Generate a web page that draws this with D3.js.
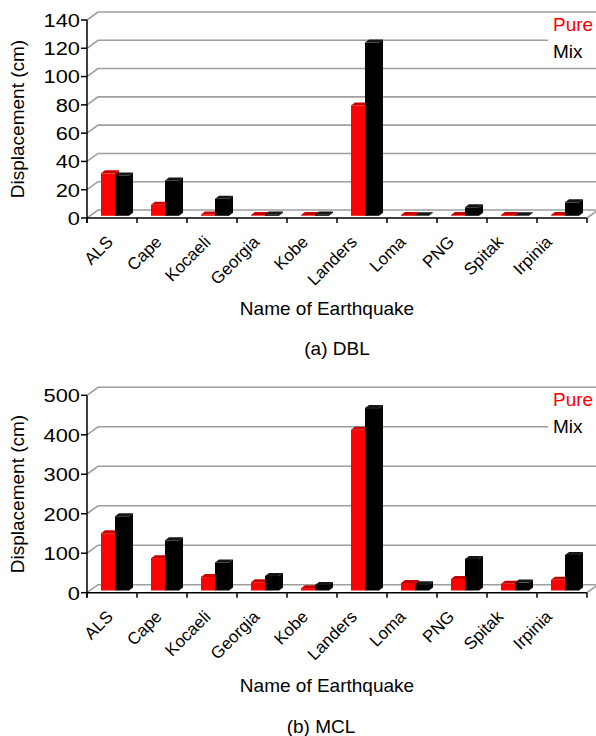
<!DOCTYPE html>
<html>
<head>
<meta charset="utf-8">
<script src="https://cdn.jsdelivr.net/npm/d3@7"></script>
<style>
  body { margin: 0; background: #fff; }
  svg { display: block; font-family: "Liberation Sans", Arial, Helvetica, sans-serif; }
</style>
</head>
<body>
<svg id="chart" width="596" height="736"></svg>
<script>
// Earthquake records and the two series shown in each panel
const categories = ["ALS", "Cape", "Kocaeli", "Georgia", "Kobe", "Landers", "Loma", "PNG", "Spitak", "Irpinia"];
const seriesNames = ["Pure", "Mix"];
const seriesColors = ["#ff0000", "#000000"];

// (a) DBL displacement, cm
const dblPure = [30, 7.8, 1, 0.5, 0.5, 78, 0.6, 0.5, 0.6, 0.5];
const dblMix  = [28.5, 25, 12, 1, 1, 122.5, 0.4, 6, 0.4, 9.5];
const dblTicks = [0, 20, 40, 60, 80, 100, 120, 140];

// (b) MCL displacement, cm
const mclPure = [145, 82, 34, 21, 6, 407, 19, 29, 17, 27];
const mclMix  = [188, 127, 71, 37, 14, 462, 16, 80, 20, 90];
const mclTicks = [0, 100, 200, 300, 400, 500];

const panels = [
  { caption: "(a) DBL", values: [dblPure, dblMix], ticks: dblTicks,
    yBottom: 218, yTop: 20, xTitleY: 315, captionX: 337, captionY: 355, legendY: 15 },
  { caption: "(b) MCL", values: [mclPure, mclMix], ticks: mclTicks,
    yBottom: 592.7, yTop: 395.3, xTitleY: 691.5, captionX: 321, captionY: 733, legendY: 390 }
];

const svg = d3.select("#chart");
const xLeft = 87, xRight = 587;
const wall = { dx: 11, dy: -8 };        // depth of the back wall
const place = { dx: 3, dy: -2.2 };      // depth at which bars stand
const bar = { dx: 4, dy: -3 };          // thickness of each bar

const shade = {
  "#ff0000": { top: "#c40000", side: "#a30000" },
  "#000000": { top: "#161616", side: "#050505" }
};

panels.forEach(p => {
  const g = svg.append("g");
  const y = d3.scaleLinear().domain([p.ticks[0], p.ticks[p.ticks.length - 1]]).range([p.yBottom, p.yTop]);
  const x = d3.scaleBand().domain(categories).range([xLeft, xRight]);
  const inner = d3.scaleBand().domain(seriesNames).range([11, 39]);
  const labelX = d3.scalePoint().domain(categories).range([114, 553]);

  // back-wall gridlines with their side-wall diagonals
  g.append("g").selectAll("path").data(p.ticks).join("path")
    .attr("d", t => {
      const yy = y(t);
      return `M${xLeft},${yy}L${xLeft + wall.dx},${yy + wall.dy}L${xRight + wall.dx},${yy + wall.dy}`;
    })
    .attr("fill", "none").attr("stroke", "#9e9e9e").attr("stroke-width", 1.6);

  // floor right edge
  g.append("path")
    .attr("d", `M${xRight},${y(0)}L${xRight + wall.dx},${y(0) + wall.dy}`)
    .attr("stroke", "#9e9e9e").attr("stroke-width", 1.6);

  // bars
  categories.forEach((c, i) => {
    seriesNames.forEach((s, k) => {
      const v = p.values[k][i];
      const col = seriesColors[k];
      const x0 = x(c) + inner(s) + place.dx;
      const x1 = x0 + inner.bandwidth();
      const yb = y(0) + place.dy;
      const yt = y(v) + place.dy;
      const bg = g.append("g");
      bg.append("rect").attr("x", x0).attr("y", yt)
        .attr("width", x1 - x0).attr("height", Math.max(0, yb - yt)).attr("fill", col);
      bg.append("path")
        .attr("d", `M${x0},${yt}L${x0 + bar.dx},${yt + bar.dy}L${x1 + bar.dx},${yt + bar.dy}L${x1},${yt}Z`)
        .attr("fill", shade[col].top);
      bg.append("path")
        .attr("d", `M${x1},${yt}L${x1 + bar.dx},${yt + bar.dy}L${x1 + bar.dx},${yb + bar.dy}L${x1},${yb}Z`)
        .attr("fill", shade[col].side);
    });
  });

  // y axis
  g.append("line").attr("x1", xLeft).attr("x2", xLeft)
    .attr("y1", y(p.ticks[p.ticks.length - 1])).attr("y2", y(0) + 5)
    .attr("stroke", "#000").attr("stroke-width", 1.5);
  g.append("g").selectAll("line").data(p.ticks).join("line")
    .attr("x1", xLeft - 6).attr("x2", xLeft).attr("y1", d => y(d)).attr("y2", d => y(d))
    .attr("stroke", "#000").attr("stroke-width", 1.5);
  g.append("g").selectAll("text").data(p.ticks).join("text")
    .attr("transform", d => `translate(80,${y(d)}) scale(1.15,1)`)
    .attr("text-anchor", "end").attr("dy", "0.36em")
    .attr("font-size", 19).attr("fill", "#000").text(d => d);

  // x axis
  g.append("line").attr("x1", xLeft).attr("x2", xRight).attr("y1", y(0)).attr("y2", y(0))
    .attr("stroke", "#000").attr("stroke-width", 1.5);
  const bounds = categories.map(c => x(c)).concat([xRight]);
  g.append("g").selectAll("line").data(bounds).join("line")
    .attr("x1", d => d).attr("x2", d => d).attr("y1", y(0)).attr("y2", y(0) + 5)
    .attr("stroke", "#000").attr("stroke-width", 1.5);
  g.append("g").selectAll("text").data(categories).join("text")
    .attr("transform", c => `translate(${labelX(c)},${y(0) + 25}) rotate(-45)`)
    .attr("text-anchor", "end").attr("font-size", 17).attr("fill", "#000").text(c => c);

  // axis titles and caption
  g.append("text")
    .attr("transform", `translate(23.5,${(p.yTop + p.yBottom) / 2}) rotate(-90)`)
    .attr("text-anchor", "middle").attr("font-size", 19).text("Displacement (cm)");
  g.append("text").attr("x", 327).attr("y", p.xTitleY)
    .attr("text-anchor", "middle").attr("font-size", 19).text("Name of Earthquake");
  g.append("text").attr("x", p.captionX).attr("y", p.captionY)
    .attr("text-anchor", "middle").attr("font-size", 19).text(p.caption);

  // legend
  const lg = g.append("g").attr("transform", `translate(548,${p.legendY})`);
  lg.append("rect").attr("width", 48).attr("height", 50).attr("fill", "#fff");
  seriesNames.forEach((s, k) => {
    lg.append("text").attr("x", 5).attr("y", 16 + k * 27.3)
      .attr("font-size", 19).attr("fill", seriesColors[k]).text(s);
  });
});
</script>
</body>
</html>
